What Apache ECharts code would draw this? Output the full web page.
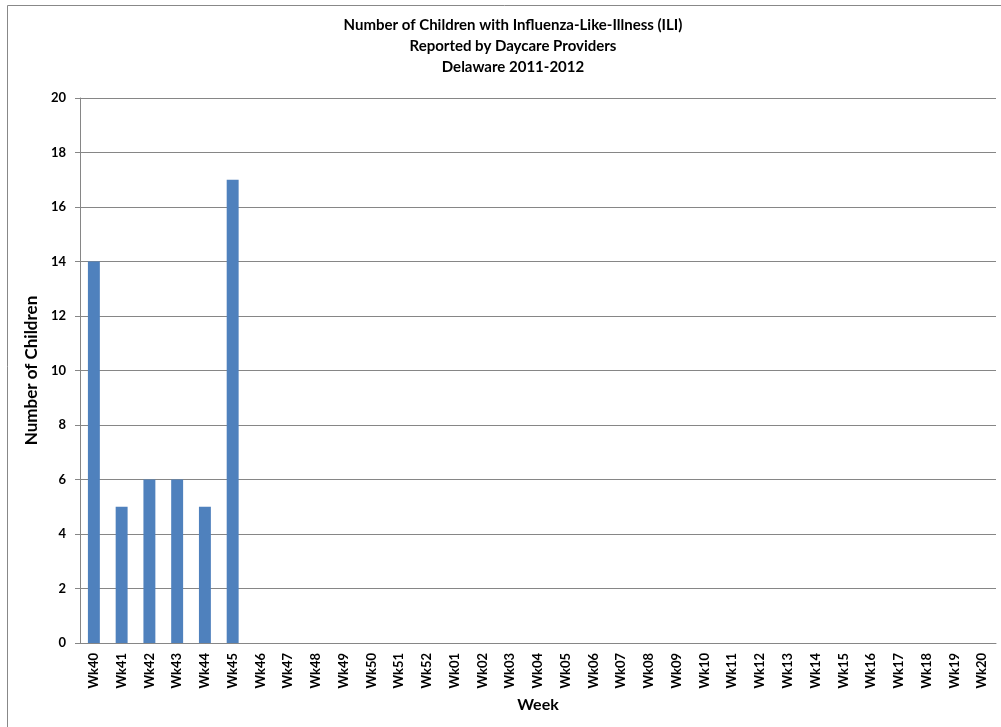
<!DOCTYPE html>
<html><head><meta charset="utf-8">
<script src="https://cdn.jsdelivr.net/npm/echarts@6/dist/echarts.min.js"></script>
<style>html,body{margin:0;padding:0;background:#fff}#c{width:1001px;height:727px}</style>
</head><body><div id="c"></div>
<script>
const categories = ['Wk40','Wk41','Wk42','Wk43','Wk44','Wk45','Wk46','Wk47','Wk48','Wk49','Wk50','Wk51','Wk52','Wk01','Wk02','Wk03','Wk04','Wk05','Wk06','Wk07','Wk08','Wk09','Wk10','Wk11','Wk12','Wk13','Wk14','Wk15','Wk16','Wk17','Wk18','Wk19','Wk20'];
const children = [14,5,6,6,5,17,null,null,null,null,null,null,null,null,null,null,null,null,null,null,null,null,null,null,null,null,null,null,null,null,null,null,null];
const titleLines = ['Number of Children with Influenza-Like-Illness (ILI)','Reported by Daycare Providers','Delaware 2011-2012'];
const font = 'Lato, "Open Sans", sans-serif';
const chart = echarts.init(document.getElementById('c'));
chart.setOption({
  animation:false,
  graphic:[{type:'rect',shape:{x:7.5,y:5.5,width:1000,height:730},style:{fill:'none',stroke:'#888',lineWidth:1}}],
  title:{text:titleLines.join('\n'),left:508,textAlign:'center',top:10,textStyle:{fontFamily:font,fontWeight:'bold',fontSize:15,lineHeight:21,color:'#000'}},
  grid:{left:80,right:5,top:98,bottom:84,containLabel:false},
  xAxis:{type:'category',data:categories,name:'Week',nameLocation:'middle',nameGap:53,
    nameTextStyle:{fontFamily:font,fontWeight:'bold',fontSize:16,color:'#000'},
    axisLine:{lineStyle:{color:'#868686'}},axisTick:{show:false},
    axisLabel:{rotate:90,interval:0,fontFamily:font,fontWeight:'bold',fontSize:13,color:'#000',margin:10}},
  yAxis:{type:'value',min:0,max:20,interval:2,name:'Number of Children',nameLocation:'middle',nameGap:37,
    nameTextStyle:{fontFamily:font,fontWeight:'bold',fontSize:17,color:'#000'},
    axisLine:{show:true,lineStyle:{color:'#868686'}},axisTick:{show:true,length:5,lineStyle:{color:'#868686'}},
    splitLine:{lineStyle:{color:'#868686'}},
    axisLabel:{fontFamily:font,fontWeight:'bold',fontSize:13,color:'#000',margin:14}},
  series:[{type:'bar',data:children,barWidth:'43%',itemStyle:{color:'#4F81BD'}}]
});
</script></body></html>
